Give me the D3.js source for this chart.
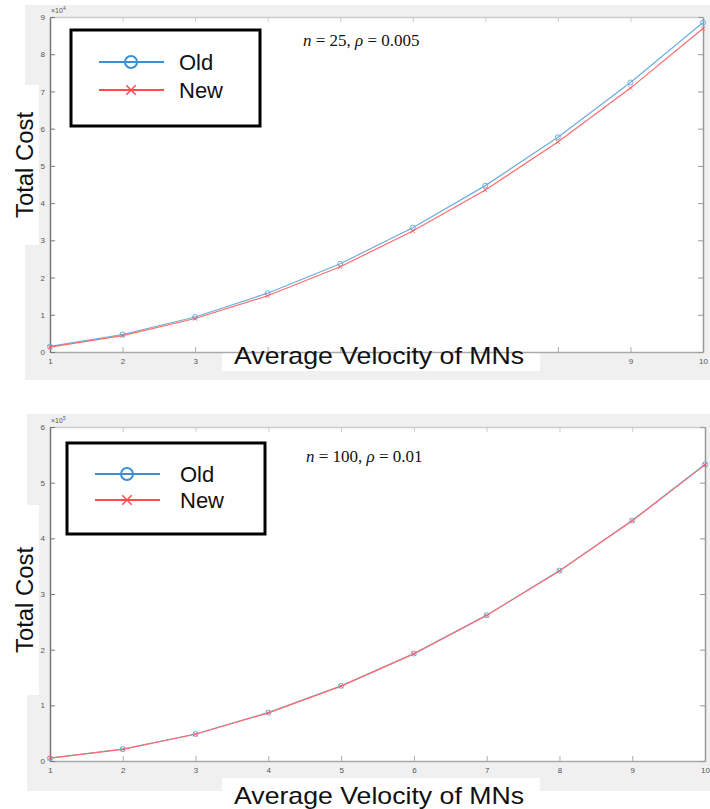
<!DOCTYPE html>
<html>
<head>
<meta charset="utf-8">
<script src="https://cdn.jsdelivr.net/npm/d3@7"></script>
<style>
  body { margin: 0; background: #fff; }
  text { font-family: "Liberation Sans", Arial, sans-serif; }
</style>
</head>
<body>
<script>
var velocity = [1, 2, 3, 4, 5, 6, 7, 8, 9, 10];

// top chart, values x 10^4
var oldTop = [0.15, 0.47, 0.94, 1.58, 2.37, 3.34, 4.47, 5.77, 7.24, 8.85];
var newTop = [0.13, 0.44, 0.90, 1.51, 2.29, 3.25, 4.35, 5.64, 7.09, 8.69];

// bottom chart, values x 10^5
var oldBottom = [0.05, 0.215, 0.485, 0.87, 1.35, 1.93, 2.62, 3.42, 4.32, 5.33];
var newBottom = [0.05, 0.21, 0.48, 0.865, 1.345, 1.925, 2.615, 3.415, 4.315, 5.32];

var topTicks = [0, 1, 2, 3, 4, 5, 6, 7, 8, 9];
var bottomTicks = [0, 1, 2, 3, 4, 5, 6];
var seriesNames = ["Old", "New"];

var svg = d3.select("body").append("svg")
    .attr("width", 710)
    .attr("height", 809);

function drawPanel(p) {
  var g = svg.append("g");

  // gray figure background
  g.append("rect")
    .attr("x", p.bg[0]).attr("y", p.bg[1])
    .attr("width", p.bg[2]).attr("height", p.bg[3])
    .style("fill", "#f0f0f0");

  // white patches where the axis labels were pasted
  g.append("rect")
    .attr("x", 0).attr("y", p.ylab[0]).attr("width", 39).attr("height", p.ylab[1])
    .style("fill", "#fff");
  g.append("rect")
    .attr("x", 222).attr("y", p.xlab[0]).attr("width", 318).attr("height", p.xlab[1])
    .style("fill", "#fff");

  var x = d3.scaleLinear().domain([1, 10]).range([p.left, p.right]);
  var y = d3.scaleLinear().domain([0, p.ymax]).range([p.bottom, p.top]);

  g.append("rect")
    .attr("x", p.left).attr("y", p.top)
    .attr("width", p.right - p.left).attr("height", p.bottom - p.top)
    .style("fill", "#fff");

  function styleAxis(sel, col) {
    sel.select(".domain").style("stroke", col).style("stroke-width", 1.5);
    sel.selectAll(".tick line").style("stroke", col);
    sel.selectAll("text").style("fill", "#555").style("font-size", "8px");
  }

  g.append("g")
    .attr("transform", "translate(0," + p.bottom + ")")
    .call(d3.axisBottom(x).tickValues(velocity).tickSizeInner(-5).tickSizeOuter(0).tickPadding(6)
      .tickFormat(function(d) { return p.hideX.indexOf(d) >= 0 ? "" : d; }))
    .call(styleAxis, "#aaa");
  g.append("g")
    .attr("transform", "translate(0," + p.top + ")")
    .call(d3.axisTop(x).tickValues(velocity).tickSizeInner(-5).tickSizeOuter(0).tickFormat(""))
    .call(styleAxis, "#ccc");
  g.append("g")
    .attr("transform", "translate(" + p.left + ",0)")
    .call(d3.axisLeft(y).tickValues(p.ticks).tickSizeInner(-5).tickSizeOuter(0).tickPadding(5)
      .tickFormat(d3.format("d")))
    .call(styleAxis, "#777");
  g.append("g")
    .attr("transform", "translate(" + p.right + ",0)")
    .call(d3.axisRight(y).tickValues(p.ticks).tickSizeInner(-5).tickSizeOuter(0).tickFormat(""))
    .call(styleAxis, "#999");

  // exponent
  g.append("text")
    .attr("x", p.left + 1).attr("y", p.top - 4)
    .style("font-size", "7px").style("fill", "#555")
    .text("\u00d710")
    .append("tspan").attr("dy", -3).style("font-size", "5px").text(p.exp);

  var line = d3.line()
    .x(function(d, i) { return x(velocity[i]); })
    .y(function(d) { return y(d); });

  g.append("path").datum(p.oldVals)
    .attr("d", line)
    .style("fill", "none").style("stroke", "#6aaee0").style("stroke-width", 1.2);
  g.append("path").datum(p.newVals)
    .attr("d", line)
    .style("fill", "none").style("stroke", "#ff6b6b").style("stroke-width", 1.2);

  g.selectAll(".oldpt").data(p.oldVals).enter().append("circle")
    .attr("cx", function(d, i) { return x(velocity[i]); })
    .attr("cy", function(d) { return y(d); })
    .attr("r", 2.5)
    .style("fill", "none").style("stroke", "#6aaee0").style("stroke-width", 1);

  var cross = d3.symbol().type(d3.symbolX).size(14);
  g.selectAll(".newpt").data(p.newVals).enter().append("path")
    .attr("d", cross)
    .attr("transform", function(d, i) { return "translate(" + x(velocity[i]) + "," + y(d) + ")"; })
    .style("fill", "#ff5050").style("stroke", "#ff5050").style("stroke-width", 0.8);

  // annotation
  var ann = g.append("text")
    .attr("x", p.annX).attr("y", p.annY)
    .style("font-family", "'Liberation Serif', 'Times New Roman', serif")
    .style("font-size", "17px").style("fill", "#111");
  ann.append("tspan").style("font-style", "italic").text("n");
  ann.append("tspan").text(" = " + p.n + ", ");
  ann.append("tspan").style("font-style", "italic").text("\u03c1");
  ann.append("tspan").text(" = " + p.rho);

  // legend
  var lg = p.legend;
  g.append("rect")
    .attr("x", lg[0]).attr("y", lg[1]).attr("width", lg[2]).attr("height", lg[3])
    .style("fill", "#fff").style("stroke", "#000").style("stroke-width", 3);
  var colors = ["#3c8fd6", "#ff4b4b"];
  seriesNames.forEach(function(name, i) {
    var ly = lg[4] + i * lg[5];
    g.append("line")
      .attr("x1", lg[0] + 28).attr("x2", lg[0] + 93)
      .attr("y1", ly).attr("y2", ly)
      .style("stroke", colors[i]).style("stroke-width", 2);
    var mx = lg[0] + 60;
    if (i === 0) {
      g.append("circle").attr("cx", mx).attr("cy", ly).attr("r", 6)
        .style("fill", "none").style("stroke", colors[i]).style("stroke-width", 2);
    } else {
      g.append("path").attr("d", d3.symbol().type(d3.symbolX).size(60))
        .attr("transform", "translate(" + mx + "," + ly + ")")
        .style("fill", colors[i]).style("stroke", colors[i]).style("stroke-width", 1.5);
    }
    g.append("text")
      .attr("x", lg[0] + p.legText).attr("y", ly + 8)
      .style("font-size", "22px").style("fill", "#111")
      .text(name);
  });

  // axis titles, stretched a little like the pasted labels
  g.append("text")
    .attr("transform", "translate(33," + (p.ylab[0] + p.ylab[1] / 2) + ") rotate(-90)")
    .attr("x", -53)
    .attr("textLength", 106).attr("lengthAdjust", "spacingAndGlyphs")
    .style("font-size", "23px").style("fill", "#111")
    .text("Total Cost");

  g.append("text")
    .attr("x", 234).attr("y", p.xlab[0] + p.xlab[1] - p.xlabPad)
    .attr("textLength", 290).attr("lengthAdjust", "spacingAndGlyphs")
    .style("font-size", "24px").style("fill", "#111")
    .text("Average Velocity of MNs");
}

drawPanel({
  bg: [25, 5, 685, 375],
  left: 50, right: 703, top: 17, bottom: 352,
  ymax: 9, ticks: topTicks, exp: "4",
  hideX: [4, 5, 6, 7, 8],
  oldVals: oldTop, newVals: newTop,
  annX: 303, annY: 46, n: 25, rho: "0.005",
  legend: [71, 30, 189, 96, 62, 28], legText: 108,
  ylab: [85, 160],
  xlab: [340, 31], xlabPad: 7
});

drawPanel({
  bg: [27, 414, 683, 377],
  left: 50, right: 705, top: 427, bottom: 761,
  ymax: 6, ticks: bottomTicks, exp: "5",
  hideX: [],
  oldVals: oldBottom, newVals: newBottom,
  annX: 306, annY: 462, n: 100, rho: "0.01",
  legend: [67, 443, 198, 91, 474, 26], legText: 113,
  ylab: [505, 190],
  xlab: [778, 31], xlabPad: 5
});
</script>
</body>
</html>
